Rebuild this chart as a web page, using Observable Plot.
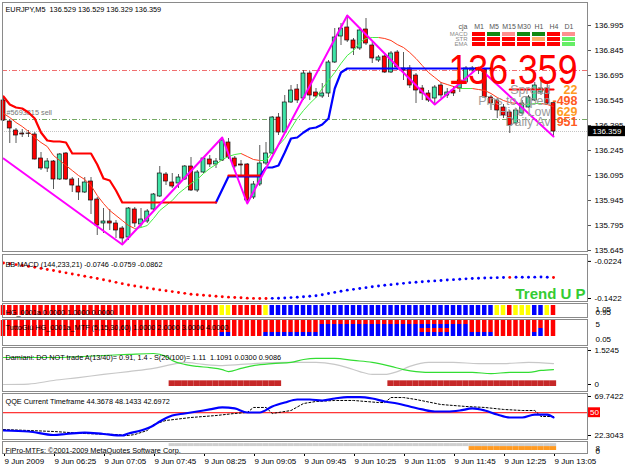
<!DOCTYPE html>
<html><head><meta charset="utf-8">
<script src="https://cdn.jsdelivr.net/npm/d3@7"></script>
<script src="https://cdn.jsdelivr.net/npm/@observablehq/plot@0.6"></script>
<style>
body{margin:0;background:#fff;}
#root{position:relative;width:625px;height:469px;overflow:hidden;background:#fff;}
#root svg{position:absolute;left:0;overflow:visible;}
</style></head><body><div id="root"></div>
<script>
// ---------------- DATA ----------------
const title = "EURJPY,M5\u00a0\u00a0136.529 136.529 136.329 136.359";
const open = [136.545,136.419,136.365,136.347,136.347,136.341,136.197,136.137,136.179,136.071,
136.227,136.071,136.029,135.993,136.059,135.951,135.807,135.819,135.807,135.777,
135.723,135.891,135.801,135.819,135.891,135.969,136.101,136.053,136.047,136.071,
136.149,136.005,136.113,136.191,136.161,136.185,136.293,136.197,136.161,136.161,
135.963,136.041,136.167,136.227,136.443,136.353,136.533,136.611,136.557,136.707,
136.593,136.569,136.587,136.773,136.929,136.983,136.905,136.857,136.971,136.875,
136.785,136.809,136.713,136.833,136.737,136.737,136.695,136.617,136.587,136.557,
136.635,136.575,136.605,136.617,136.653,136.725,136.737,136.731,136.563,136.545,
136.503,136.473,136.407,136.467,136.503,136.545,136.593,136.617,136.529];
const high = [136.569,136.431,136.377,136.371,136.365,136.353,136.233,136.197,136.185,136.227,
136.233,136.083,136.077,136.083,136.083,135.963,135.897,135.891,135.825,135.789,
135.903,135.903,135.897,135.891,135.987,136.149,136.113,136.107,136.101,136.155,
136.203,136.125,136.203,136.215,136.197,136.323,136.317,136.209,136.185,136.167,
136.059,136.275,136.293,136.449,136.467,136.575,136.635,136.641,136.725,136.719,
136.617,136.647,136.785,136.977,137.007,137.055,136.917,136.983,137.037,136.893,
136.815,136.827,136.839,136.845,136.833,136.755,136.707,136.635,136.605,136.635,
136.653,136.617,136.629,136.683,136.749,136.749,136.743,136.737,136.575,136.557,
136.521,136.485,136.497,136.545,136.575,136.653,136.665,136.647,136.529];
const low = [136.419,136.287,136.287,136.323,136.323,136.188,136.125,136.113,136.011,136.065,
136.065,135.993,135.945,135.987,135.861,135.735,135.747,135.765,135.717,135.681,
135.705,135.783,135.783,135.807,135.885,135.963,136.035,136.017,136.017,136.065,
135.999,135.993,136.107,136.143,136.137,136.179,136.191,136.137,136.095,135.927,
135.951,136.029,136.155,136.221,136.335,136.347,136.527,136.527,136.545,136.545,
136.557,136.557,136.563,136.767,136.875,136.893,136.815,136.845,136.875,136.767,
136.773,136.707,136.707,136.725,136.665,136.617,136.527,136.545,136.533,136.521,
136.557,136.557,136.569,136.593,136.641,136.707,136.701,136.557,136.485,136.437,
136.437,136.347,136.395,136.455,136.497,136.539,136.575,136.521,136.329];
const close = [136.425,136.377,136.335,136.341,136.345,136.191,136.137,136.179,136.071,136.221,
136.071,136.035,135.993,136.053,135.945,135.795,135.819,135.807,135.765,135.717,
135.897,135.807,135.831,135.879,135.981,136.107,136.059,136.029,136.083,136.149,
136.005,136.113,136.197,136.161,136.179,136.305,136.203,136.149,136.155,135.945,
136.041,136.167,136.227,136.443,136.353,136.533,136.605,136.545,136.707,136.575,
136.569,136.587,136.773,136.923,136.977,136.905,136.857,136.965,136.887,136.797,
136.803,136.713,136.827,136.743,136.725,136.635,136.605,136.587,136.545,136.623,
136.575,136.593,136.587,136.665,136.737,136.737,136.725,136.563,136.527,136.485,
136.455,136.395,136.485,136.527,136.563,136.635,136.617,136.527,136.359];
const maLine = [136.467,136.443,136.413,136.389,136.359,136.323,136.293,136.269,136.215,136.185,
136.155,136.125,136.095,136.071,136.035,135.975,135.927,135.885,135.855,135.825,
135.795,135.777,135.783,135.795,135.837,135.885,135.915,135.945,135.987,136.017,
136.047,136.071,136.107,136.137,136.161,136.191,136.209,136.221,136.227,136.209,
136.191,136.185,136.185,136.233,136.275,136.317,136.377,136.437,136.485,136.527,
136.563,136.617,136.665,136.713,136.767,136.815,136.845,136.893,136.917,136.923,
136.923,136.917,136.905,136.881,136.863,136.833,136.797,136.755,136.713,136.683,
136.653,136.641,136.629,136.617,136.617,136.617,136.611,136.605,136.587,136.563,
136.545,136.533,136.527,136.521,136.521,136.527,136.527,136.521,136.509];
const stopRed = [136.569,136.521,136.503,136.497,136.473,136.437,136.353,136.305,136.299,136.299,
136.293,136.227,136.227,136.227,136.227,136.161,136.077,136.065,136.005,135.933,
135.933,135.933,135.933,135.933,135.933,135.933,135.933,135.933,135.933,135.933,
135.933,135.933,135.933,135.933,135.933,null,136.095,136.095,136.095,136.095,
136.095,136.095,null,null,null,null,null,null,null,null,
null,null,null,null,null,null,null,null,null,null,
null,null,null,null,null,null,null,null,null,null,
null,null,null,null,null,null,null,null,null,null,
null,136.611,136.611,136.611,136.611,136.611,136.611,136.611,136.611];
const stopBlue = [null,null,null,null,null,null,null,null,null,null,
null,null,null,null,null,null,null,null,null,null,
null,null,null,null,null,null,null,null,null,null,
null,null,null,null,135.933,136.011,136.089,136.089,136.089,136.089,
136.089,136.089,136.143,136.143,136.155,136.233,136.317,136.323,136.353,136.377,
136.383,136.401,136.437,136.617,136.713,136.737,136.737,136.737,136.737,136.737,
136.737,136.737,136.737,136.737,136.737,136.737,136.737,136.737,136.737,136.737,
136.737,136.737,136.737,136.737,136.737,136.737,136.737,136.737,136.737,null,
null,null,null,null,null,null,null,null,null];
const zigzagBars = [0,19,35,39,55,69,76,88];
const zigzagPrices = [136.197,135.681,136.323,135.927,137.055,136.521,136.743,136.329];
const redLevel = 136.725, sellLevel = 136.431, bidPrice = 136.359;
const sellLabel = "#5693815 sell";
const priceTicks = [136.995,136.845,136.695,136.545,136.395,136.245,136.095,135.945,135.795,135.645];
const timeTicks = [0,8,16,24,32,40,48,56,64,72,80,88];
const timeLabels = ["9 Jun 2009","9 Jun 06:25","9 Jun 07:05","9 Jun 07:45","9 Jun 08:25","9 Jun 09:05","9 Jun 09:45","9 Jun 10:25","9 Jun 11:05","9 Jun 11:45","9 Jun 12:25","9 Jun 13:05"];
// info panel
const infoLabels = ["Spread","Pips to Open","Hi to Low","Daily Av"];
const infoValues = ["22","-498","629","951"];
const infoColors = ["#ff9a22","#ff5a22","#ff9a22","#ff5a22"];
// multi timeframe table
const tfs = ["M1","M5","M15","M30","H1","H4","D1"];
const tableRows = ["MACD","STR","EMA"];
const tableColors = [
  ["#ff0000","#118811","#ff8f8f","#118811","#118811","#ff0000","#ff8f8f"],
  ["#ff0000","#ff0000","#ff0000","#ff0000","#ffaa66","#ff0000","#66ee66"],
  ["#ff0000","#ff0000","#ff0000","#ff0000","#ff0000","#ff0000","#66ee66"]];
// BB MACD
const macdLabel = "BB MACD (144,233,21) -0.0746 -0.0759 -0.0862";
const macd = [-0.0276,-0.0300,-0.0327,-0.0355,-0.0385,-0.0415,-0.0450,-0.0485,-0.0520,-0.0556,
-0.0593,-0.0630,-0.0667,-0.0703,-0.0739,-0.0774,-0.0816,-0.0859,-0.0901,-0.0943,
-0.0985,-0.1017,-0.1049,-0.1081,-0.1113,-0.1144,-0.1172,-0.1200,-0.1228,-0.1256,
-0.1283,-0.1300,-0.1317,-0.1334,-0.1351,-0.1367,-0.1378,-0.1389,-0.1400,-0.1410,
-0.1419,-0.1421,-0.1422,-0.1418,-0.1412,-0.1406,-0.1393,-0.1380,-0.1366,-0.1351,
-0.1335,-0.1300,-0.1262,-0.1225,-0.1189,-0.1153,-0.1126,-0.1099,-0.1071,-0.1044,
-0.1017,-0.0996,-0.0975,-0.0953,-0.0932,-0.0910,-0.0896,-0.0882,-0.0867,-0.0853,
-0.0839,-0.0826,-0.0813,-0.0800,-0.0787,-0.0774,-0.0768,-0.0762,-0.0755,-0.0749,
-0.0742,-0.0740,-0.0738,-0.0736,-0.0734,-0.0732,-0.0730,-0.0736,-0.0746];
const macdColorRuns = [["R",43],["B",38],["R",1],["B",6],["R",1]];
const macdTicks = [-0.0224,-0.1422];
// HG strip
const hgLabel = "HG_0001a 0.0000 1.0000 0.0000";
const hgRuns = [["R",35],["Y",2],["R",5],["Y",1],["B",36],["Y",2],["R",1],["Y",3],["B",2],["Y",1],["R",1]];
// TuttoGiu MTF (blue rows from the bottom; x = alternating)
const tgLabel = "TuttoGi\u00f9 HG_0001a_MTF (5,15,30,60) 1.0000 2.0000 3.0000 4.0000";
const tgRuns = [[0,35],[1,2],[0,5],[1,9],[3,16],["x",5],[3,3],[1,4],[0,6],[1,1],[2,1],[0,2]];
// Damiani
const damLabel = "Damiani: DO NOT trade A(13/40)= 0.91, 1.4 - S(20/100)= 1.11  1.1091 0.0300 0.9086";
const damGreenBars = [0,8,16,20,24,26,27,29,31,33,35,36,38,40,43,46,48,50,53,56,59,62,64,66,69,72,75,78,81,84,86,88];
const damGreen = [1.21,1.21,1.30,1.35,1.39,1.26,1.08,0.90,0.81,0.76,0.67,0.58,0.72,0.85,0.94,0.99,1.12,1.17,1.17,1.08,0.99,0.81,0.67,0.58,0.54,0.54,0.54,0.49,0.54,0.54,0.63,0.67];
const damGreyBars = [0,4,8,12,16,20,24,27,29,32,35,40,45,50,53,55,57,59,61,63,65,68,72,76,80,84,88];
const damGrey = [0.00,0.02,0.18,0.31,0.45,0.58,0.72,0.90,0.99,0.90,0.85,0.94,0.99,0.99,0.90,0.76,0.58,0.45,0.45,0.58,0.81,0.99,0.99,0.94,0.94,0.99,0.94];
const damTradeRuns = [[0,27],[1,18],[0,17],[1,27]];
const damTradeValue = 0.03;
const damTicks = [1.5245, 0];
// QQE
const qqeLabel = "QQE Current Timeframe 44.3678 48.1433 42.6972";
const qqeBlueBars = [0,4,8,10,13,16,19,20,22,24,25,27,29,31,33,35,37,39,41,43,45,47,49,51,53,55,57,59,61,63,65,67,69,71,73,75,77,79,81,83,85,87,88];
const qqeBlue = [28.4,27.2,22.9,24.1,25.9,24.1,22.3,24.7,28.4,34.5,39.3,46.6,49.1,51.5,54.0,56.4,55.2,50.3,50.3,57.6,62.4,66.1,66.1,64.9,67.3,69.1,69.1,67.3,63.7,61.2,57.6,54.0,51.5,51.5,52.7,55.2,52.7,47.8,44.2,44.2,47.8,47.8,44.4];
const qqeDotBars = [0,8,13,18,20,21,23,24,26,30,34,37,39,40,42,43,46,48,50,53,56,60,61,62,64,66,70,74,77,80,83,85,86,88];
const qqeDot = [29.6,27.2,24.7,23.5,22.3,23.5,28.4,35.7,40.6,44.2,46.6,49.1,50.3,56.4,56.4,49.1,52.7,61.2,63.7,64.9,64.9,62.4,62.4,68.5,68.5,66.1,60.0,57.6,56.4,54.0,52.7,52.7,45.4,45.4];
const qqeTicks = [69.7422, 22.3043];
const qqeMid = 50;
// FiPro
const fiproLabel = "FiPro-MTFs: \u00a92001-2009 MetaQuotes Software Corp.";
const fiproGreyRuns = [[0,27],[1,62]];
const fiproOrangeRuns = [[0,75],[1,14]];

// ---------------- HELPERS ----------------
const N = open.length;
const XD = [-0.16, 93.44];           // bar index domain (6.25 px per bar)
const pxBar = px => XD[0] + (px - 2) / 6.25;
const FONT = "'Liberation Sans', Arial, Helvetica, sans-serif";
const LFS = 7.3;                     // panel label font size
const root = document.getElementById("root");
const expand = runs => runs.flatMap(([v, n]) => Array(n).fill(v));
const COL = {R: "#ff0000", B: "#0000ff", Y: "#ffff00"};
const axisOpts = {anchor: "right", tickSize: 3, tickPadding: 4, label: null};

function panel(top, h, yDomain, marks, mb = 0) {
  const svg = Plot.plot({
    width: 625, height: h, marginLeft: 2, marginRight: 38, marginTop: 0, marginBottom: mb,
    x: {domain: XD, axis: null}, y: {domain: yDomain, axis: null},
    style: {fontFamily: FONT, fontSize: "8px", background: "transparent", overflow: "visible", color: "#000"},
    marks
  });
  svg.style.top = top + "px";
  root.appendChild(svg);
  return svg;
}
// baseline-based placement of anchored texts
const base = (b, fs) => b - 0.57 * fs;
const topLabel = (t, b) => Plot.text([t], {frameAnchor: "top-left", dx: 3, dy: base(b, LFS), textAnchor: "start", fill: "#000", fontSize: LFS});
const rightLabel = (t, b) => Plot.text([t], {frameAnchor: "top-right", dx: 8, dy: base(b, 8), textAnchor: "start", fill: "#000"});
const frame = () => Plot.frame({stroke: "#8a8a8a"});

// ---------------- MAIN PANEL ----------------
const bars = d3.range(N).map(i => ({i, o: open[i], h: high[i], l: low[i], c: close[i]}));
const maSegs = d3.range(N - 1).map(i => ({i, a: maLine[i], b: maLine[i + 1]}));
const toSeries = arr => arr.map((v, i) => ({i, v: v == null ? NaN : v}));
const zz = zigzagBars.map((b, k) => ({i: b, v: zigzagPrices[k]}));
const infoBase = [90, 100.5, 111.5, 122];
const mainSvg = panel(2, 249, [135.639, 137.133], [
  Plot.ruleY([redLevel], {stroke: "#f07070", strokeDasharray: "5,2,1,2"}),
  Plot.ruleY([sellLevel], {stroke: "#77aa66", strokeDasharray: "5,2,1,2"}),
  Plot.ruleY([bidPrice], {stroke: "#c4c4c4", strokeDasharray: "1,1"}),
  Plot.text([sellLabel], {x: 0, y: sellLevel, dx: 3, dy: -7, textAnchor: "start", fill: "#777", fontSize: LFS}),
  Plot.ruleX(bars, {x: "i", y1: "l", y2: "h", stroke: "#5a5a5a", strokeWidth: 1}),
  Plot.rect(bars, {x1: d => d.i - 0.32, x2: d => d.i + 0.32, y1: "o", y2: "c",
    fill: d => d.c >= d.o ? "#3ee3a6" : "#ff0000", stroke: "#111", strokeWidth: 0.7}),
  Plot.link(maSegs, {x1: "i", x2: d => d.i + 1, y1: "a", y2: "b",
    stroke: d => d.b >= d.a ? "#44ee44" : "#ff3a1a", strokeWidth: 1}),
  Plot.line(toSeries(stopBlue), {x: "i", y: "v", stroke: "#0000ff", strokeWidth: 2.2}),
  Plot.line(toSeries(stopRed), {x: "i", y: "v", stroke: "#ff0000", strokeWidth: 2.2}),
  Plot.line(zz, {x: "i", y: "v", stroke: "#ff00ff", strokeWidth: 2}),
  // big bid text and info block
  Plot.text([bidPrice.toFixed(3)], {frameAnchor: "top-right", dx: -10, dy: base(76, 42), textAnchor: "end",
    fontSize: 42, fill: "#ff0000", fontFamily: "'Liberation Sans Narrow', 'Liberation Sans', Arial, sans-serif"}),
  ...infoLabels.map((t, k) => Plot.text([t], {frameAnchor: "top-right", dx: -37, dy: base(infoBase[k], 12.5),
    textAnchor: "end", fontSize: 12.5, fill: "#9c9c9c"})),
  ...infoValues.map((t, k) => Plot.text([t], {frameAnchor: "top-right", dx: -10, dy: base(infoBase[k], 12.5),
    textAnchor: "end", fontSize: 12.5, fontWeight: "bold", fill: infoColors[k]})),
  topLabel(title, 8.5),
  Plot.axisY({...axisOpts, ticks: priceTicks, tickFormat: d => d.toFixed(3), stroke: "#555"}),
  Plot.rect([bidPrice], {x1: pxBar(588), x2: pxBar(625), y1: bidPrice - 0.031, y2: bidPrice + 0.031, fill: "#000"}),
  Plot.text([bidPrice], {x: pxBar(592), y: bidPrice, text: d => d.toFixed(3), textAnchor: "start", fill: "#fff"}),
  frame()
]);
mainSvg.querySelectorAll("text").forEach(t => {
  const g = t.closest("g");
  if (t.textContent === "136.359" && g && g.getAttribute("font-size") === "42") {
    t.setAttribute("textLength", "129"); t.setAttribute("lengthAdjust", "spacingAndGlyphs");
  }
});

// ---------------- TABLE (multi timeframe) ----------------
const cells = tableRows.flatMap((r, ri) => tfs.map((tf, ci) => ({tf, row: r, color: tableColors[ri][ci]})));
const tableSvg = Plot.plot({
  width: 625, height: 56, marginLeft: 469, marginRight: 47, marginTop: 30, marginBottom: 8,
  x: {type: "band", domain: tfs, padding: 0.14, axis: null},
  y: {type: "band", domain: tableRows, padding: 0.3, axis: null},
  style: {fontFamily: FONT, fontSize: "7px", background: "transparent", overflow: "visible"},
  marks: [
    Plot.cell(cells, {x: "tf", y: "row", fill: "color"}),
    Plot.text(tfs, {x: d => d, frameAnchor: "top", dy: -6.5, fill: "#555"}),
    Plot.text(["cja"], {frameAnchor: "top-left", dx: -11, dy: -6.5, fill: "#555"}),
    Plot.text(tableRows, {y: d => d, frameAnchor: "left", dx: -2, textAnchor: "end", fontSize: 6, fill: "#8a8a8a"})
  ]
});
tableSvg.style.top = "0px";
root.appendChild(tableSvg);

// ---------------- BB MACD ----------------
const macdCols = expand(macdColorRuns);
panel(254, 47, [-0.1519, -0.0001], [
  Plot.dot(macd.map((v, i) => ({i, v})), {x: "i", y: "v", r: 1.45, fill: d => COL[macdCols[d.i]]}),
  topLabel(macdLabel, 11),
  Plot.text(["Trend U P"], {frameAnchor: "top-right", dx: -2, dy: base(42, 15), textAnchor: "end", fontSize: 15,
    fontWeight: "bold", fill: "#33cc33"}),
  Plot.axisY({...axisOpts, ticks: macdTicks, tickFormat: d => d.toFixed(4)}),
  frame()
]);

// ---------------- HG strip ----------------
const hgCols = expand(hgRuns);
panel(303, 14, [-0.2, 1.2], [
  Plot.rect(hgCols.map((c, i) => ({i, c})), {x1: d => d.i - 0.36, x2: d => d.i + 0.36, y1: 0, y2: 1, fill: d => COL[d.c]}),
  topLabel(hgLabel, 10),
  rightLabel("1.05", 7), rightLabel("0.95", 10),
  frame()
]);

// ---------------- TuttoGiu MTF ----------------
const tgCodes = expand(tgRuns);
const tgCells = tgCodes.flatMap((code, i) => [0, 1, 2, 3].map(k => {
  const blue = code === "x" ? (k === 0 || k === 2) : k < code;
  return {i, k, fill: blue ? "#0000ff" : "#ff0000"};
}));
panel(319, 26, [-2.25, 4.25], [
  Plot.rect(tgCells, {x1: d => d.i - 0.36, x2: d => d.i + 0.36, y1: "k", y2: d => d.k + 1, fill: "fill"}),
  topLabel(tgLabel, 9),
  rightLabel("5", 6), rightLabel("0.05", 21),
  frame()
]);

// ---------------- Damiani ----------------
const damTrade = expand(damTradeRuns);
panel(347, 44, [-0.314, 1.659], [
  Plot.rect(damTrade.map((f, i) => ({i, f})).filter(d => d.f === 1),
    {x1: d => d.i - 0.5, x2: d => d.i + 0.5, y1: 0, y2: damTradeValue, fill: "#c62828", insetTop: -3, insetBottom: -2}),
  Plot.line(damGreyBars.map((b, k) => ({i: b, v: damGrey[k]})), {x: "i", y: "v", stroke: "#c8c8c8", strokeWidth: 1.2, curve: "monotone-x"}),
  Plot.line(damGreenBars.map((b, k) => ({i: b, v: damGreen[k]})), {x: "i", y: "v", stroke: "#33dd33", strokeWidth: 1.2, curve: "monotone-x"}),
  topLabel(damLabel, 11),
  Plot.axisY({...axisOpts, ticks: damTicks, tickFormat: d => d === 0 ? "0" : d.toFixed(4)}),
  frame()
]);

// ---------------- QQE ----------------
panel(393, 46, [17.44, 73.39], [
  Plot.ruleY([qqeMid], {stroke: "#ff0000"}),
  Plot.line(qqeDotBars.map((b, k) => ({i: b, v: qqeDot[k]})), {x: "i", y: "v", stroke: "#000", strokeWidth: 1, strokeDasharray: "2,2"}),
  Plot.line(qqeBlueBars.map((b, k) => ({i: b, v: qqeBlue[k]})), {x: "i", y: "v", stroke: "#0000ff", strokeWidth: 2.2, curve: "monotone-x"}),
  topLabel(qqeLabel, 9),
  Plot.axisY({...axisOpts, ticks: qqeTicks, tickFormat: d => d.toFixed(4)}),
  Plot.rect([qqeMid], {x1: pxBar(588), x2: pxBar(600), y1: qqeMid - 6, y2: qqeMid + 6, fill: "#ff0000"}),
  Plot.text([qqeMid], {x: pxBar(594), y: qqeMid, text: d => String(d), fill: "#fff"}),
  frame()
]);

// ---------------- FiPro + time axis ----------------
const fGrey = expand(fiproGreyRuns), fOr = expand(fiproOrangeRuns);
panel(441, 28, [0, 4], [
  Plot.rect(fGrey.map((f, i) => ({i, f})).filter(d => d.f === 1), {x1: d => d.i - 0.5, x2: d => d.i + 0.5, y1: 2.3, y2: 3.3, fill: "#cfcfcf"}),
  Plot.rect(fOr.map((f, i) => ({i, f})).filter(d => d.f === 1), {x1: d => d.i - 0.5, x2: d => d.i + 0.5, y1: 1.0, y2: 2.3, fill: "#ff9a22"}),
  topLabel(fiproLabel, 10),
  rightLabel("8", 8), rightLabel("0", 11),
  Plot.axisX({ticks: timeTicks, anchor: "bottom", tickSize: 3, tickPadding: 2, label: null, textAnchor: "start", dx: 1,
    tickFormat: d => timeLabels[timeTicks.indexOf(d)]}),
  frame()
], 16);
</script></body></html>
